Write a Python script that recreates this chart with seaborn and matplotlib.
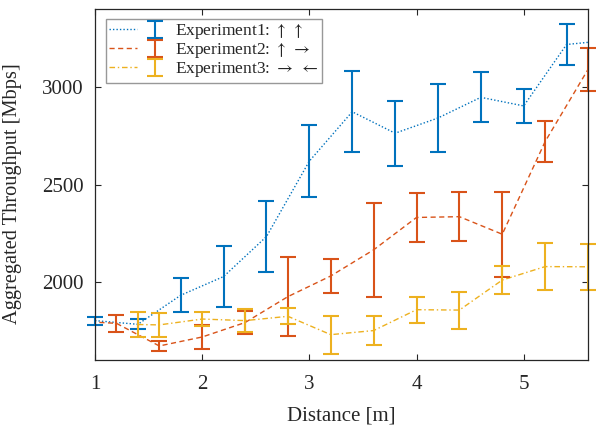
import numpy as np
import pandas as pd
import matplotlib
matplotlib.use("Agg")
import matplotlib.pyplot as plt
import seaborn as sns
from matplotlib.legend_handler import HandlerTuple

# ---- data ----
series_names = ["Experiment1", "Experiment2", "Experiment3"]
legend_labels = [r"Experiment1: $\uparrow\;\uparrow$",
                 r"Experiment2: $\uparrow\;\rightarrow$",
                 r"Experiment3: $\rightarrow\;\leftarrow$"]

exp1_x = [1.0, 1.4, 1.8, 2.2, 2.6, 3.0, 3.4, 3.8, 4.2, 4.6, 5.0, 5.4, 5.8]
exp1_y = [1802, 1783, 1932, 2028, 2233, 2620, 2873, 2763, 2841, 2947, 2903, 3218, 3240]
exp1_err = [21, 25, 88, 155, 184, 184, 207, 167, 174, 128, 86, 105, 100]

exp2_x = [0.8, 1.2, 1.6, 2.0, 2.4, 2.8, 3.2, 3.6, 4.0, 4.4, 4.8, 5.2, 5.6]
exp2_y = [1800, 1788, 1672, 1718, 1792, 1925, 2031, 2165, 2331, 2335, 2245, 2720, 3090]
exp2_err = [40, 43, 26, 60, 57, 201, 86, 241, 124, 125, 218, 106, 110]

exp3_x = [1.4, 1.6, 2.0, 2.4, 2.8, 3.2, 3.6, 4.0, 4.4, 4.8, 5.2, 5.6]
exp3_y = [1782, 1780, 1810, 1802, 1824, 1730, 1751, 1858, 1856, 2010, 2079, 2078]
exp3_err = [63, 62, 35, 57, 41, 97, 75, 67, 95, 74, 121, 117]

x_ticks = [1, 2, 3, 4, 5]
y_ticks = [2000, 2500, 3000]

colors = ["#0072BD", "#D95319", "#EDB120"]

# ---- build dataframe ----
frames = []
for name, xs, ys, es in zip(series_names, [exp1_x, exp2_x, exp3_x],
                            [exp1_y, exp2_y, exp3_y], [exp1_err, exp2_err, exp3_err]):
    frames.append(pd.DataFrame({"Distance": xs, "Throughput": ys, "err": es, "series": name}))
df = pd.concat(frames, ignore_index=True)

sns.set_style("ticks")
plt.rcParams["font.family"] = ["Liberation Serif", "DejaVu Serif"]
plt.rcParams["mathtext.fontset"] = "stix"

fig = plt.figure(figsize=(5.97, 4.25), dpi=100)
ax = fig.add_axes([95 / 597, 1 - 360 / 425, 493 / 597, 351 / 425])

palette = dict(zip(series_names, colors))
dashes = {"Experiment1": (1, 1.5), "Experiment2": (3.7, 2.5), "Experiment3": (4, 2, 1, 2)}
sns.lineplot(data=df, x="Distance", y="Throughput", hue="series", style="series",
             palette=palette, dashes=dashes, linewidth=1.0, legend=False, ax=ax,
             sort=False, estimator=None)

xlim = (1.0, 5.6)
ylim = (1600, 3400)
handles = []
for i, name in enumerate(series_names):
    sub = df[(df.series == name) & (df.Distance >= xlim[0] - 1e-9) & (df.Distance <= xlim[1] + 1e-9)]
    eb = ax.errorbar(sub.Distance, sub.Throughput, yerr=sub.err, fmt="none",
                     ecolor=colors[i], elinewidth=1.5, capsize=5.5, capthick=1.5)
    for art in eb.lines[1] + eb.lines[2]:
        art.set_clip_on(False)
    handles.append((ax.lines[i], eb))

ax.set_xlim(*xlim)
ax.set_ylim(*ylim)
ax.set_xticks(x_ticks)
ax.set_yticks(y_ticks)
ax.tick_params(direction="in", top=True, right=True, length=4, width=0.8,
               labelsize=15, colors="#262626")
ax.tick_params(axis="x", pad=11)
ax.tick_params(axis="y", pad=8)
for s in ax.spines.values():
    s.set_color("#262626")
    s.set_linewidth(0.9)
ax.set_xlabel("Distance [m]", fontsize=15, color="#262626", labelpad=9)
ax.set_ylabel("Aggregated Throughput [Mbps]", fontsize=14.7, color="#262626")
ax.yaxis.set_label_coords(-0.148, 0.473)

leg = ax.legend(handles, legend_labels, handler_map={tuple: HandlerTuple(ndivide=None)},
                loc="upper left", bbox_to_anchor=(11 / 493, 1 - 10 / 351),
                borderaxespad=0, fontsize=12.5, handlelength=3.4, handletextpad=0.4,
                labelspacing=0.0, borderpad=0.2, frameon=True, fancybox=False)
leg.get_frame().set_edgecolor("#7f7f7f")
leg.get_frame().set_linewidth(1.0)
for t in leg.get_texts():
    t.set_color("#262626")

fig.savefig("out.png", dpi=100)
